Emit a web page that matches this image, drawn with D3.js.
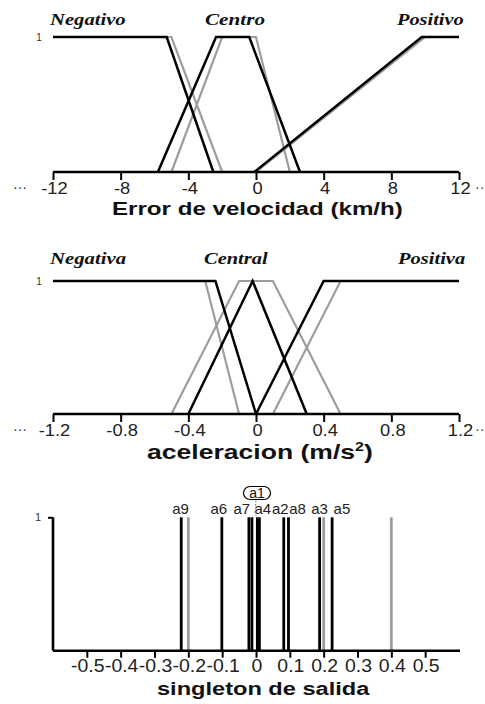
<!DOCTYPE html>
<html><head><meta charset="utf-8">
<script src="https://cdn.jsdelivr.net/npm/d3@7"></script>
<style>body{margin:0;background:#fff}svg{display:block}</style>
</head><body>
<svg id="c" width="485" height="704"></svg>
<script>
// ---------- data ----------
const velTicks = [-12, -8, -4, 0, 4, 8, 12];
const velNames = ["Negativo", "Centro", "Positivo"];
const velNegGray = [[-12, 1], [-5, 1], [-2, 0]];
const velCenGray = [[-5, 0], [-2, 1], [0, 1], [2, 0]];
const velPosGray = [[0, 0], [10, 1], [12, 1]];
const velNegBlack = [[-12, 1], [-5.28, 1], [-2.52, 0]];
const velCenBlack = [[-5.8, 0], [-2.36, 1], [-0.4, 1], [2.6, 0]];
const velPosBlack = [[-0.1, 0], [9.8, 1], [12, 1]];

const accTicks = [-1.2, -0.8, -0.4, 0, 0.4, 0.8, 1.2];
const accNames = ["Negativa", "Central", "Positiva"];
const accNegGray = [[-1.2, 1], [-0.3, 1], [-0.1, 0]];
const accCenGray = [[-0.5, 0], [-0.1, 1], [0.1, 1], [0.5, 0]];
const accPosGray = [[0.1, 0], [0.5, 1], [1.2, 1]];
const accNegBlack = [[-1.2, 1], [-0.24, 1], [0, 0]];
const accCenBlack = [[-0.4, 0], [-0.02, 1], [0.3, 0]];
const accPosBlack = [[0, 0], [0.4, 1], [1.2, 1]];

const outTicks = [-0.5, -0.4, -0.3, -0.2, -0.1, 0, 0.1, 0.2, 0.3, 0.4, 0.5];
const outGray = [-0.2, 0.2, 0.4];
const outBlack = [-0.221, -0.101, -0.021, -0.012, 0.004, 0.010, 0.082, 0.096, 0.188, 0.225];
const outLabels = ["a9", "a6", "a7", "a4", "a2", "a8", "a3", "a5"];
const outLabelAt = [-0.223, -0.11, -0.042, 0.02, 0.072, 0.123, 0.188, 0.254];
const outBoxed = {name: "a1", at: 0.0};

// ---------- drawing ----------
const svg = d3.select("#c");
const X0 = 53, X1 = 459;
const GRAY = "#9d9d9d";
const SANS = "'Liberation Sans', Arial, sans-serif";
const SERIF = "'Liberation Serif', 'Times New Roman', serif";

function txt(g, s, x, y, o) {
  const t = g.append("text").attr("x", 0).attr("y", 0)
    .attr("font-family", o.family || SANS)
    .attr("font-size", o.size)
    .attr("font-weight", o.weight || "normal")
    .attr("font-style", o.style || "normal")
    .attr("fill", o.fill || "#111")
    .attr("text-anchor", o.anchor || "start");
  if (o.parts) {
    o.parts.forEach(p => {
      const ts = t.append("tspan").text(p.t);
      if (p.sup) ts.attr("font-size", o.size * 0.6).attr("dy", -o.size * 0.4);
      if (p.back) ts.attr("dy", o.size * 0.4);
    });
  } else t.text(s);
  let sx = o.sx || 1;
  if (o.width) sx = o.width / t.node().getBBox().width;
  t.attr("transform", `translate(${x},${y}) scale(${sx},1)`);
  return t;
}

function mfPanel(top, base, domain, ticks, names, gray, black, nameY, nameBoxes, title) {
  const x = d3.scaleLinear().domain(domain).range([X0, X1]);
  const y = d3.scaleLinear().domain([0, 1]).range([base, top]);
  const g = svg.append("g");
  const line = d3.line().x(d => x(d[0])).y(d => y(d[1]));
  gray.forEach(p => g.append("path").attr("d", line(p)).attr("fill", "none")
    .attr("stroke", GRAY).attr("stroke-width", 2.2));
  black.forEach(p => g.append("path").attr("d", line(p)).attr("fill", "none")
    .attr("stroke", "#000").attr("stroke-width", 2.5));
  const ax = g.append("g").attr("transform", `translate(0,${base})`)
    .call(d3.axisBottom(x).tickValues(ticks).tickSize(8).tickFormat(() => ""));
  ax.select(".domain").attr("stroke-width", 2.6).attr("d", `M${X0},0H${X1}`);
  ax.selectAll(".tick line").attr("stroke-width", 2);
  ticks.forEach(v => txt(g, String(v), x(v) + 1.5, base + 21.5,
    {size: 17, anchor: "middle", fill: "#222", sx: 1.08}));
  txt(g, "1", 39, y(1) + 3.5, {size: 10, anchor: "middle", fill: "#333"});
  txt(g, "···", 13, base + 20, {size: 14, fill: "#333"});
  txt(g, "··", 475, base + 20, {size: 14, fill: "#333"});
  names.forEach((n, i) => txt(g, n, nameBoxes[i][0], nameY,
    {size: 17, family: SERIF, weight: "bold", style: "italic", width: nameBoxes[i][1], fill: "#111"}));
  txt(g, title.text, title.left, title.y, {size: title.size, weight: "bold", width: title.width,
    parts: title.parts, fill: "#111"});
}

mfPanel(37, 172, [-12, 12], velTicks, velNames,
  [velNegGray, velCenGray, velPosGray], [velNegBlack, velCenBlack, velPosBlack],
  25, [[50, 77], [205, 60], [397, 68]],
  {text: "Error de velocidad (km/h)", left: 112, y: 215, size: 19, width: 291});

mfPanel(281, 414, [-1.2, 1.2], accTicks, accNames,
  [accNegGray, accCenGray, accPosGray], [accNegBlack, accCenBlack, accPosBlack],
  264, [[50, 78], [204, 64], [398, 69]],
  {left: 147, y: 459, size: 20, width: 226,
   parts: [{t: "aceleracion (m/s"}, {t: "2", sup: true}, {t: ")", back: true}]});

// ---------- singleton panel ----------
(function () {
  const top = 517.3, base = 650.7;
  const x = d3.scaleLinear().domain([-0.6, 0.6]).range([X0, X1]);
  const y = d3.scaleLinear().domain([0, 1]).range([base, top]);
  const g = svg.append("g");
  g.selectAll("line.gs").data(outGray).join("line").attr("class", "gs")
    .attr("x1", d => x(d)).attr("x2", d => x(d)).attr("y1", y(0)).attr("y2", y(1))
    .attr("stroke", GRAY).attr("stroke-width", 2.8);
  g.selectAll("line.bs").data(outBlack).join("line").attr("class", "bs")
    .attr("x1", d => x(d)).attr("x2", d => x(d)).attr("y1", y(0)).attr("y2", y(1))
    .attr("stroke", "#000").attr("stroke-width", 2.8);
  const ax = g.append("g").attr("transform", `translate(0,${base})`)
    .call(d3.axisBottom(x).tickValues(outTicks).tickSize(7).tickFormat(() => ""));
  ax.select(".domain").attr("stroke-width", 2.6).attr("d", `M${X0},0H${X1 + 1}`);
  ax.selectAll(".tick line").attr("stroke-width", 2);
  const ay = g.append("g").attr("transform", `translate(${X0},0)`)
    .call(d3.axisLeft(y).tickValues([1]).tickSize(5).tickFormat(() => ""));
  ay.select(".domain").attr("stroke-width", 2.6).attr("d", `M0,${y(1)}V${base}`);
  ay.selectAll(".tick line").attr("stroke-width", 2);
  txt(g, "1", 38, y(1) + 4, {size: 11, anchor: "middle", fill: "#333"});
  outTicks.forEach(v => txt(g, String(v), x(v) + 1, base + 21.5,
    {size: 18, anchor: "middle", fill: "#222", sx: 1.08}));
  outLabels.forEach((n, i) => txt(g, n, x(outLabelAt[i]), top - 3,
    {size: 15, anchor: "middle", fill: "#222"}));
  // boxed label with leader
  const bx = x(outBoxed.at);
  g.append("rect").attr("x", bx - 12.5).attr("y", 486.5).attr("width", 27).attr("height", 13)
    .attr("rx", 6.5).attr("fill", "#fff").attr("stroke", "#000").attr("stroke-width", 1.2);
  txt(g, outBoxed.name, bx + 1, 498, {size: 14, anchor: "middle", fill: "#111"});
  g.append("path").attr("d", `M${bx},${500.5}L${bx - 1},${512}Q${bx},${518} ${bx + 3},${518}`)
    .attr("fill", "none").attr("stroke", "#666").attr("stroke-width", 0.8)
    .attr("stroke-dasharray", "2,1.5");
  txt(g, "singleton de salida", 157, 694.5, {size: 19, weight: "bold", width: 213, fill: "#111"});
})();
</script>
</body></html>
